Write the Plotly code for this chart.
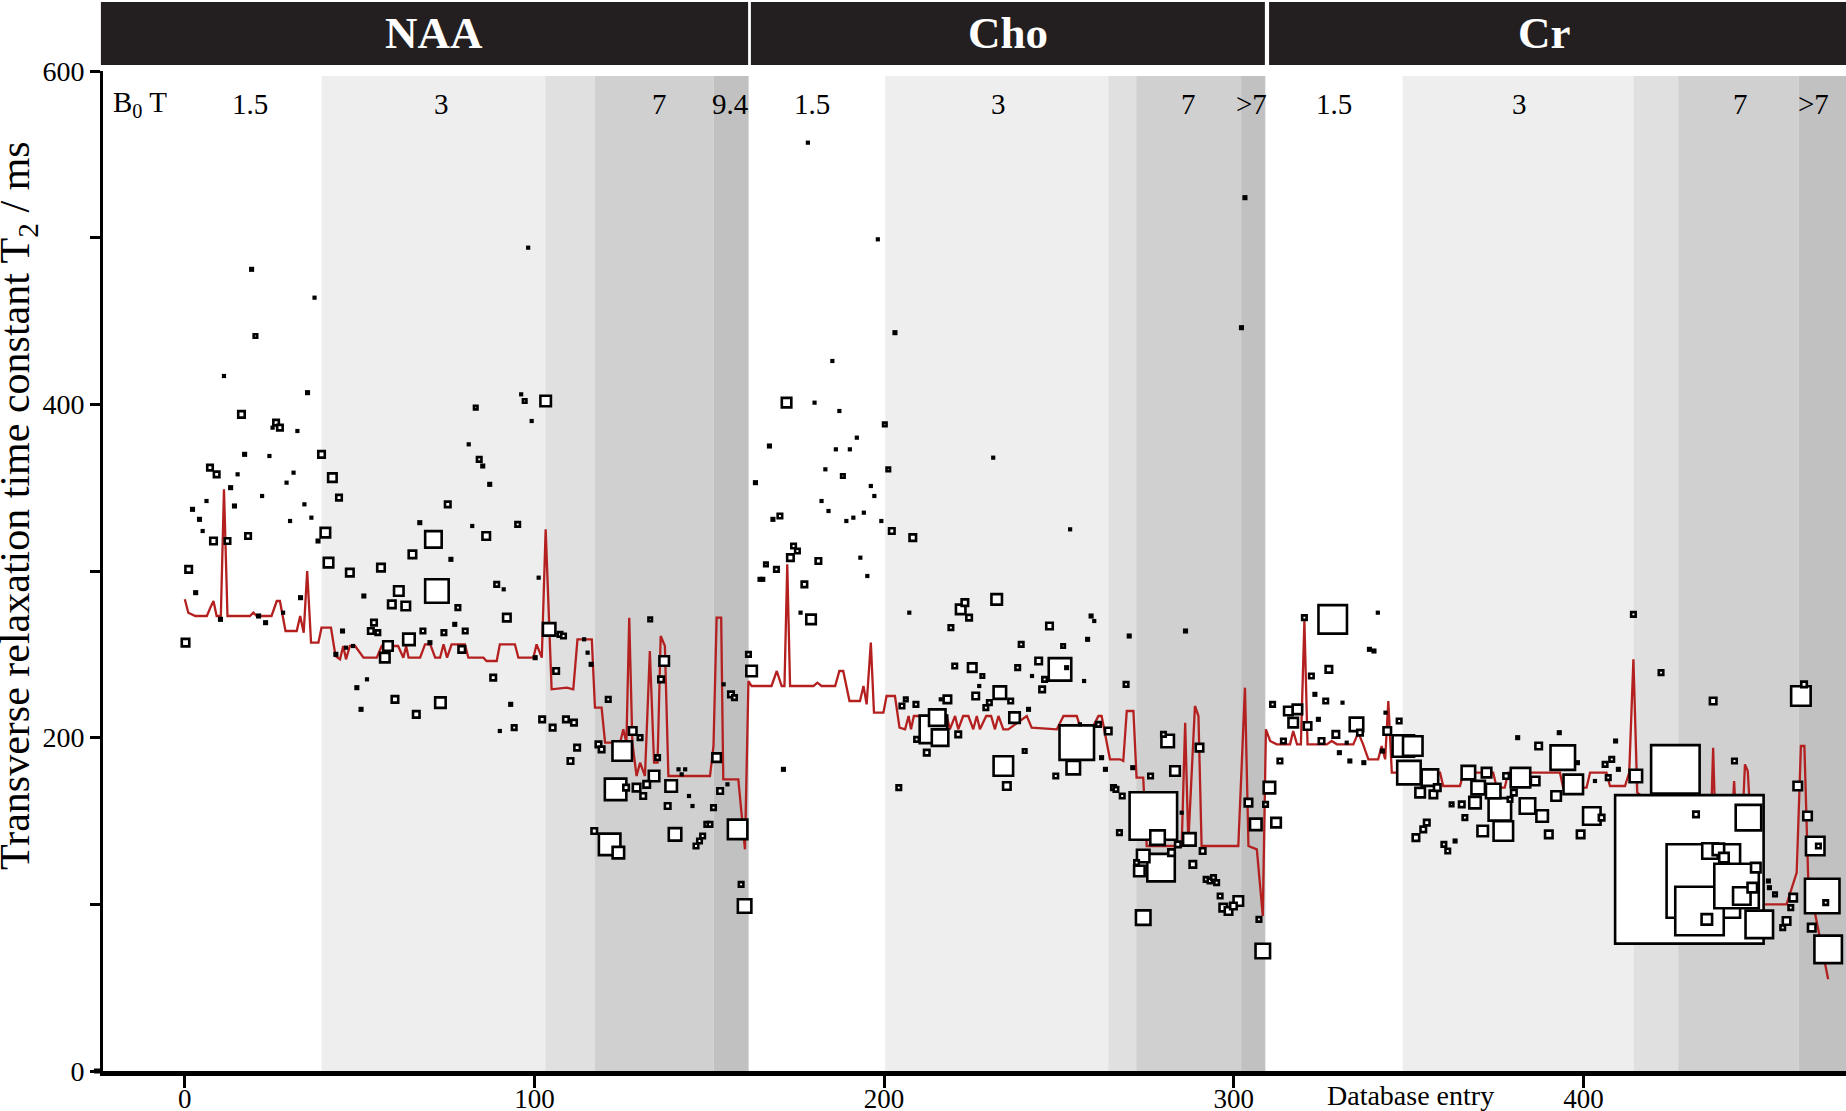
import plotly.graph_objects as go

# ---------------- data ----------------
# NAA entries: database entry index, T2 (ms), relative weight (marker area driver)
naa_x = [0.2,1.1,2.2,3.1,4.2,5.1,6.2,7.2,8.2,9.1,10.2,11.2,12.2,13.1,14.2,15.1,16.2,17.1,18.1,19.1,20.2,21.1,22.1,23.1,24.2,25.1,26.1,27.2,28.1,29.1,30.1,31.1,32.2,33.1,34.2,35.1,36.2,37.1,38.1,
         39.1,40.2,41.1,42.2,43.2,44.1,45.1,46.1,47.2,48.1,49.2,50.4,51.2,52.1,53.2,54.1,55.2,56.1,57.2,58.1,59.2,60.1,61.2,63.2,64.1,65.1,66.2,67.2,68.1,70.1,71.1,72.1,73.1,74.1,75.2,76.1,77.2,78.1,79.2,80.2,81.2,82.2,83.2,84.2,85.2,86.2,87.2,88.2,89.2,90.1,91.2,92.1,93.2,94.2,95.2,96.2,97.2,98.2,99.2,100.2,101.2,102.2,
         103.2,104.2,105.2,106.2,107.3,108.3,109.0,110.3,111.3,112.2,114.2,115.2,116.2,
         117.1,118.3,119.2,121.1,121.5,123.2,124.0,125.1,126.2,128.1,129.2,130.2,131.1,132.1,133.1,134.2,135.2,136.2,137.1,138.1,139.1,140.2,141.2,142.1,143.1,144.2,145.2,146.2,147.2,148.1,149.3,150.2,
         151.2,152.1,153.1,154.1,155.2,156.2,157.2,158.1,159.1,160.1]
naa_y = [257,301,337,287,331,324,342,362,318,358,271,417,318,350,339,358,394,370,321,481,441,273,345,269,369,386,389,386,275,353,330,359,384,284,340,407,332,464,318,
         370,323,305,356,250,344,264,254,299,255,230,217,285,235,264,269,263,302,248,255,280,223,288,279,259,310,214,329,264,257,319,288,221,263,340,307,268,278,253,264,376,327,398,367,363,321,352,236,292,204,289,272,220,206,328,406,402,494,390,248,296,211,
         402,265,206,240,262,261,211,186,209,194,259,251,244,
         144,196,193,223,136,169,131,192,170,204,170,200,165,172,271,177,188,235,246,159,171,142,181,178,181,165,159,135,138,141,148,148,
         158,188,168,232,172,226,224,145,112,99]
naa_w = [10,9,5,5,5,4,4,8,9,8,5,4,8,5,5,3,9,5,8,5,6,5,4,5,3,3,8,8,4,4,3,3,4,5,3,5,4,3,5,
         9,12,12,11,5,8,5,4,10,4,5,5,5,4,8,8,7,10,12,12,10,9,12,11,14,10,9,5,7,5,19,26,13,7,8,5,5,7,9,7,4,4,6,7,5,10,5,8,7,3,4,10,5,7,7,3,6,3,3,5,4,8,
         13,15,8,8,7,7,8,8,8,8,4,3,5,
         8,8,8,7,24,24,14,22,8,10,10,7,8,9,6,13,7,8,12,8,14,15,4,4,4,4,4,7,7,7,7,7,
         7,11,8,4,4,8,7,22,7,16]

cho_x = [161.2,162.1,163.2,164.5,165.3,166.2,167.2,168.2,169.2,170.2,171.2,172.1,173.2,174.1,175.2,176.1,177.2,178.2,179.1,180.1,181.2,182.1,183.2,184.1,185.2,186.2,187.2,188.2,189.2,190.2,191.2,192.2,193.2,194.2,195.2,196.2,197.2,198.2,199.2,200.2,
         201.2,202.2,203.1,204.2,205.1,206.2,207.2,208.2,209.1,209.3,212.2,214.1,215.2,216.0,216.2,218.1,219.1,220.2,221.2,221.9,223.1,224.3,225.2,226.2,227.2,228.1,229.1,230.1,231.2,232.2,233.1,234.1,235.1,236.2,237.3,238.2,239.2,240.2,241.3,242.3,244.2,245.2,245.9,247.3,249.1,250.3,251.2,252.2,253.2,254.1,255.1,256.0,257.2,258.2,259.2,260.1,261.3,262.2,263.3,
         264.1,265.6,266.3,267.3,268.1,269.2,270.1,271.1,
         272.2,273.0,274.1,274.1,276.2,277.0,278.2,279.2,279.9,281.1,282.2,283.2,284.0,285.1,286.2,287.3,288.3,290.2,291.1,292.1,293.2,294.2,295.1,296.1,297.0,298.5,299.9,301.3,
         302.2,303.2,304.2,306.3,307.2,308.3]
cho_y = [250,240,353,295,295,304,375,331,301,333,181,401,308,315,312,275,292,557,271,401,306,342,361,336,426,373,396,357,330,373,332,380,308,335,297,351,345,499,330,388,
         361,324,443,170,219,223,275,320,220,199,191,205,212,200,223,223,266,243,202,277,281,272,242,225,231,237,218,221,368,283,227,183,171,222,212,242,256,192,217,237,246,229,235,267,177,241,255,242,325,182,197,208,234,259,273,270,208,188,181,
         204,170,169,143,165,232,261,182,
         125,120,129,92,177,153,140,122,202,198,131,180,136,155,264,139,124,194,132,115,114,116,113,105,98,96,99,102,
         446,524,161,148,91,72]
cho_w = [7,13,5,5,5,6,5,5,7,7,5,12,9,7,7,4,8,3,12,4,8,4,3,4,3,3,3,6,3,3,3,3,3,3,4,4,4,3,4,6,
         6,8,5,7,7,6,4,9,7,7,8,30,19,19,4,10,7,7,8,12,9,8,11,9,3,6,7,7,3,13,15,22,10,7,13,7,7,6,5,4,9,8,7,9,7,25,6,5,4,16,37,4,4,5,5,4,7,5,5,
         9,7,7,7,7,7,5,5,
         7,13,15,17,7,50,17,30,7,15,9,12,8,4,5,15,9,10,8,7,7,7,7,7,10,10,9,12,
         5,5,10,14,7,17]

cr_x = [309.1,310.2,311.1,312.1,313.2,314.2,315.6,317.0,318.2,320.2,321.1,322.2,323.2,324.2,325.1,326.3,327.2,328.3,329.2,330.2,331.1,332.3,333.2,335.1,336.1,337.2,338.8,340.1,341.2,342.5,343.4,343.9,347.3,
        348.5,350.1,351.2,352.1,353.3,354.2,355.2,356.1,357.1,358.2,360.1,361.2,362.3,363.3,365.2,366.1,367.1,369.0,369.9,371.2,372.3,374.2,376.1,377.1,377.9,379.0,380.1,381.2,382.0,384.0,386.2,387.2,388.2,390.1,392.2,393.1,394.1,397.1,398.3,399.2,402.4,403.3,405.2,406.2,407.1,408.1,409.2,410.0,414.3,
        415.0,422.2,426.3,
        430.3,432.2,433.2,434.3,435.3,436.2,437.1,438.6,440.2,443.2,443.8,445.3,447.2,448.3,449.3,450.3,452.9,453.2,454.8,457.0,458.1,459.3,460.0,
        461.3,462.2,463.1,464.1,465.3,466.3,467.2,468.3,469.3,470.0]
cr_y = [160,170,220,149,186,198,216,209,217,272,207,237,226,211,198,222,241,271,202,191,221,197,186,208,203,185,253,252,275,192,215,204,210,
        195,179,195,140,167,145,149,176,166,170,136,132,160,138,160,152,179,161,170,144,179,168,157,144,177,163,167,200,176,159,174,195,153,142,165,203,188,172,185,142,153,174,152,184,176,187,198,181,274,
        177,239,181,
        121,154,96,114,91,132,222,133,128,186,111,105,152,110,122,88,114,110,106,86,90,98,104,
        171,225,232,153,86,135,135,105,101,73]
cr_w = [7,14,7,12,7,7,11,12,12,7,10,7,5,5,8,7,9,31,9,5,3,3,5,16,8,5,5,5,3,5,4,10,7,
        24,26,22,9,12,8,8,19,10,9,7,7,6,5,8,7,16,14,16,13,12,17,25,22,8,7,8,5,22,18,11,9,14,10,12,5,27,22,5,10,20,4,8,7,7,7,5,5,7,
        15,7,51,
        151,8,51,76,13,18,9,14,12,7,47,20,28,12,12,30,5,5,6,7,10,7,10,
        11,22,8,11,10,21,7,37,7,30]

# model prediction line (red), vertices
line_x = [0,1,3,6.3,7.3,8.2,9.1,10.3,11.2,12.2,18.6,19.6,20.6,24.8,26.3,27.2,28.8,32,33,34,35,36.1,38.2,39.1,41.8,43.1,44.4,45.3,46.1,47.2,48.7,51.1,54.9,56.3,59.6,61,62.5,63.3,64,67.3,68.7,70.2,71.6,73,74,75,76.3,80.1,81.1,85.4,86.3,89.2,90.1,94.4,95.4,99.7,100.6,102.1,103.2,104.9,109.2,111.1,112.3,116.4,117.3,119.2,120.2,124.5,125.4,126.3,127.1,128,129.2,130.2,131.6,133,134.2,135.2,136.1,137.3,138.3,150.2,151.2,152.1,153.4,154,158.3,160.2,
          161.2,162.1,167.8,169.3,170.7,171.5,172.3,173.1,179.8,180.9,182.1,186,187.2,188.3,190.1,193.1,194.1,195,196.2,197.1,199.8,200.7,203.1,204.4,206,207,207.7,208.5,217.9,218.8,220.3,221.2,222.6,224.1,225.5,226.5,227.4,229.2,230.6,231.7,232.7,234.1,235.5,236.9,240.8,242.2,249.4,251.3,255.1,256,259.8,261.3,262.2,264.6,267.5,268.4,269.4,271.3,272.2,274.1,275.1,285.1,286.1,287,288.9,289.9,290.8,301.3,303.2,304.2,306.6,308.3,
          309.2,310.4,312.3,316.1,317,318.1,319.2,320.2,321.1,326.6,328,329.5,334.2,335.6,337,338.5,341.3,342.3,343.3,344.2,345.2,359,359.9,364.7,365.7,374.2,375.2,377.5,378.5,393.3,394.2,400.9,401.9,406.6,407.6,411.9,413.1,414.3,415.4,420,436.5,437.1,437.7,442.5,443.1,443.7,445.5,446.2,447,447.8,451,458.1,461,462.2,463.2,464.3,470]
line_y = [283,275,273,273,278,282,273,273,349,273,273,275,273,273,282,282,264,264,273,263,300,257,257,266,266,249,247,255,247,255,255,248,248,255,255,255,248,255,248,248,256,256,248,248,256,248,256,256,248,248,246,246,256,256,248,248,256,248,325,229,230,229,259,259,218,218,197,197,205,197,272,197,177,185,177,252,185,185,261,255,177,177,195,272,272,175,175,133,
          234,231,231,240,231,231,304,231,231,233,231,231,240,240,222,222,231,220,257,215,215,225,225,206,205,213,205,213,213,205,213,205,213,213,205,213,205,213,213,205,213,205,205,207,213,206,205,213,213,207,207,213,213,187,187,186,216,216,176,176,135,135,209,137,219,213,135,135,230,135,133,93,
          205,198,196,196,204,196,196,270,196,196,198,196,196,203,196,187,187,195,187,222,179,179,171,171,179,179,170,170,179,179,170,170,179,179,171,171,179,247,167,160,150,194,150,150,174,150,150,184,180,150,100,100,119,195,195,115,55]

# field-strength bands (B0 in tesla) along the database-entry axis
band_edges = [-23.4, 39.1, 103.1, 117.2, 151.2, 161.3, 200.3, 264.1, 272.1, 302.1, 309.1, 348.3, 414.3, 427.1, 461.5, 475.1]
band_field = ["1.5", "3", "4", "7", "high", "1.5", "3", "4", "7", "high", "1.5", "3", "4", "7", "high"]
field_labels = ["1.5", "3", "7", "9.4", "1.5", "3", "7", ">7", "1.5", "3", "7", ">7"]
field_label_x = [18.5, 73.4, 135.7, 156.0, 179.5, 232.7, 287.0, 305.0, 328.6, 381.8, 445.0, 465.7]
panels = ["NAA", "Cho", "Cr"]
panel_edges = [(-24.0, 161.1), (161.9, 308.9), (310.1, 475.1)]
panel_label_x = [71.4, 235.5, 388.7]
x_ticks = [0, 100, 200, 300, 400]
y_ticks = [0, 100, 200, 300, 400, 500, 600]

# ---------------- figure ----------------
X0, X1 = -23.4, 475.1
SERIF = "Liberation Serif, Times New Roman, serif"
band_colors = {"1.5": "#ffffff", "3": "#eeeeee", "4": "#e0e0e0", "7": "#d0d0d0", "high": "#c1c1c1"}

def xp(v):
    return (v - X0) / (X1 - X0)

shapes = []
for i, f in enumerate(band_field):
    shapes.append(dict(type="rect", xref="x", yref="y", x0=band_edges[i], x1=band_edges[i + 1],
                       y0=0, y1=597, fillcolor=band_colors[f], line=dict(width=0), layer="below"))
annotations = []
for name, (a, b), lx in zip(panels, panel_edges, panel_label_x):
    shapes.append(dict(type="rect", xref="paper", yref="paper", x0=xp(a), x1=min(xp(b), 1.0),
                       y0=1.006, y1=1.069, fillcolor="#231f20", line=dict(width=0)))
    annotations.append(dict(x=xp(lx), y=1.0375, xref="paper", yref="paper",
                            text="<b>" + name + "</b>", showarrow=False,
                            font=dict(family=SERIF, size=45, color="white"),
                            xanchor="center", yanchor="middle"))
# extend the x axis line slightly to the left like the reference
shapes.append(dict(type="line", xref="paper", yref="paper", x0=-0.0052, x1=0.0, y0=0, y1=0,
                   line=dict(color="black", width=5)))

for lab, lx in zip(field_labels, field_label_x):
    annotations.append(dict(x=lx, y=580, xref="x", yref="y", text=lab, showarrow=False,
                            font=dict(family=SERIF, size=29, color="black"),
                            xanchor="center", yanchor="middle"))
annotations.append(dict(x=-12.8, y=580, xref="x", yref="y", text="B<sub>0</sub> T", showarrow=False,
                        font=dict(family=SERIF, size=29, color="black"), xanchor="center", yanchor="middle"))
annotations.append(dict(x=-0.0488, y=0.566, xref="paper", yref="paper",
                        text="Transverse relaxation time constant T<sub>2</sub> / ms",
                        textangle=-90, showarrow=False, font=dict(family=SERIF, size=42, color="black"),
                        xanchor="center", yanchor="middle"))
annotations.append(dict(x=0.7504, y=-0.024, xref="paper", yref="paper", text="Database entry",
                        showarrow=False, font=dict(family=SERIF, size=28, color="black"),
                        xanchor="center", yanchor="middle"))

fig = go.Figure()
fig.add_trace(go.Scatter(x=line_x, y=line_y, mode="lines",
                         line=dict(color="#b3201f", width=2.3), hoverinfo="skip"))

# all points, biggest drawn first so smaller ones stay visible
px_all = naa_x + cho_x + cr_x
py_all = naa_y + cho_y + cr_y
pw_all = naa_w + cho_w + cr_w
order = sorted(range(len(px_all)), key=lambda i: -pw_all[i])
fig.add_trace(go.Scatter(
    x=[px_all[i] for i in order], y=[py_all[i] for i in order], mode="markers",
    marker=dict(symbol="square", color="white", opacity=1,
                size=[max(pw_all[i] - 2.5, 1.6) for i in order],
                line=dict(color="black", width=2.6)),
    hoverinfo="x+y"))

fig.update_layout(
    width=1846, height=1111, showlegend=False,
    margin=dict(l=103, r=0, t=71, b=40, autoexpand=False),
    paper_bgcolor="white", plot_bgcolor="white",
    shapes=shapes, annotations=annotations,
    xaxis=dict(range=[X0, X1], showgrid=False, zeroline=False, showline=True, linecolor="black",
               linewidth=5, ticks="outside", tickvals=x_ticks, ticklen=12, tickwidth=3,
               ticklabelstandoff=-12,
               tickcolor="black", tickfont=dict(family=SERIF, size=27, color="black"), automargin=False),
    yaxis=dict(range=[0, 600], showgrid=False, zeroline=False, showline=True, linecolor="black",
               linewidth=3, ticks="outside", tickvals=y_ticks,
               ticktext=[str(v) if v % 200 == 0 else "" for v in y_ticks],
               ticklen=10, tickwidth=3, tickcolor="black",
               tickfont=dict(family=SERIF, size=28, color="black"), automargin=False),
)
fig.write_html("out.html", config={"displayModeBar": False},
               post_script="document.body.style.margin='0';document.body.style.padding='0';"
                           "document.body.style.overflow='hidden';")
